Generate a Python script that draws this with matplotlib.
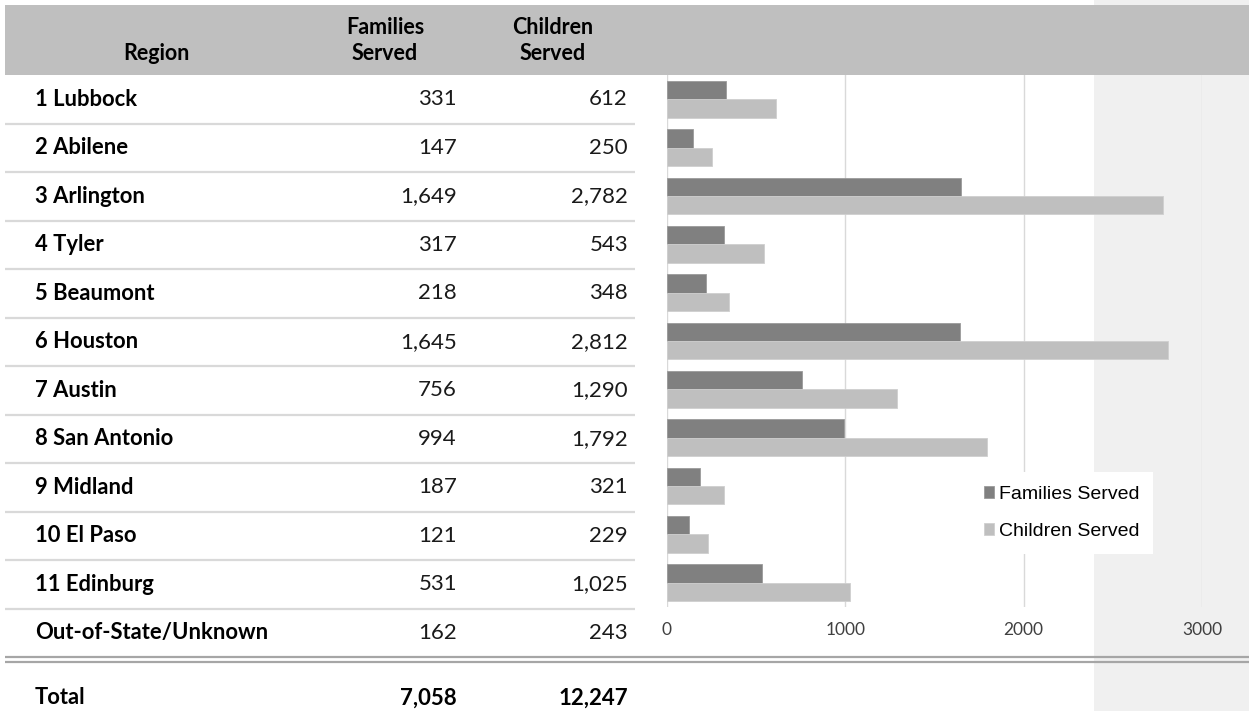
import matplotlib
matplotlib.use('Agg')
import matplotlib.pyplot as plt
from matplotlib.patches import Rectangle
import numpy as np

# table data
regions = ['1 Lubbock', '2 Abilene', '3 Arlington', '4 Tyler', '5 Beaumont', '6 Houston',
           '7 Austin', '8 San Antonio', '9 Midland', '10 El Paso', '11 Edinburg',
           'Out-of-State/Unknown']
families = [331, 147, 1649, 317, 218, 1645, 756, 994, 187, 121, 531, 162]
children = [612, 250, 2782, 543, 348, 2812, 1290, 1792, 321, 229, 1025, 243]
n_chart = 11  # out-of-state row is not in the bar chart
x_ticks = [0, 1000, 2000, 3000]

total_families = sum(families)
total_children = sum(children)

# layout in pixels
W, H = 1249, 711
head_top, head_bot = 5, 75
row_h = 48.5
x_lab, x_fam, x_chi = 35, 457, 628
c_left, c_right, c_top, c_bot = 667, 1202, 75, 607

tfont = ['Lato', 'DejaVu Sans']
lfont = ['Liberation Sans', 'DejaVu Sans']
fs_head, fs_lab, fs_num = 15.5, 15.8, 16

fig = plt.figure(figsize=(W / 100, H / 100), dpi=100)
bg = fig.add_axes([0, 0, 1, 1])
bg.set_xlim(0, W)
bg.set_ylim(H, 0)
bg.axis('off')

bg.add_patch(Rectangle((1094, 0), W - 1094, H, color='#F0F0F0', lw=0))
bg.add_patch(Rectangle((5, head_top), W - 5, head_bot - head_top, color='#BFBFBF', lw=0))

# header
bg.text(156, 53, 'Region', ha='center', va='center', fontsize=fs_head, fontweight='bold', family=tfont)
bg.text(385, 28, 'Families', ha='center', va='center', fontsize=fs_head, fontweight='bold', family=tfont)
bg.text(385, 53, 'Served', ha='center', va='center', fontsize=fs_head, fontweight='bold', family=tfont)
bg.text(553, 28, 'Children', ha='center', va='center', fontsize=fs_head, fontweight='bold', family=tfont)
bg.text(553, 53, 'Served', ha='center', va='center', fontsize=fs_head, fontweight='bold', family=tfont)

for i, (r, f, c) in enumerate(zip(regions, families, children)):
    y = head_bot + row_h * (i + 0.5)
    bg.text(x_lab, y, r, ha='left', va='center', fontsize=fs_lab, fontweight='bold', family=tfont)
    bg.text(x_fam, y, f'{f:,}', ha='right', va='center', fontsize=fs_num, family=tfont, color='#1a1a1a')
    bg.text(x_chi, y, f'{c:,}', ha='right', va='center', fontsize=fs_num, family=tfont, color='#1a1a1a')
    if i < len(regions) - 1:
        ys = head_bot + row_h * (i + 1)
        bg.plot([5, 635], [ys, ys], color='#D9D9D9', lw=1.6, solid_capstyle='butt')

for ys in (657, 662):
    bg.plot([5, W], [ys, ys], color='#A6A6A6', lw=1.6, solid_capstyle='butt')

y_tot = 698
bg.text(x_lab, y_tot, 'Total', ha='left', va='center', fontsize=fs_lab, fontweight='bold', family=tfont)
bg.text(x_fam, y_tot, f'{total_families:,}', ha='right', va='center', fontsize=fs_num, fontweight='bold', family=tfont)
bg.text(x_chi, y_tot, f'{total_children:,}', ha='right', va='center', fontsize=fs_num, fontweight='bold', family=tfont)

# bar chart
ax = fig.add_axes([c_left / W, (H - c_bot) / H, (c_right - c_left) / W, (c_bot - c_top) / H])
ax.patch.set_alpha(0)
pos = np.arange(n_chart)
bh = 0.38
b1 = ax.barh(pos - bh / 2, families[:n_chart], height=bh, color='#808080',
             edgecolor='#9a9a9a', lw=0.6, label='Families Served', zorder=3)
b2 = ax.barh(pos + bh / 2, children[:n_chart], height=bh, color='#BFBFBF',
             edgecolor='#cfcfcf', lw=0.6, label='Children Served', zorder=3)
ax.set_xlim(0, 3000)
ax.set_ylim(n_chart - 0.5, -0.5)
ax.set_xticks(x_ticks)
ax.set_xticklabels([str(t) for t in x_ticks], family=tfont, fontsize=12.5, color='#404040')
ax.set_yticks([])
ax.tick_params(axis='x', length=0, pad=11)
ax.grid(axis='x', color='#D9D9D9', lw=1, zorder=0)
for s in ax.spines.values():
    s.set_visible(False)

leg = ax.legend(loc='upper right', bbox_to_anchor=(0.927, 0.272), frameon=True,
                facecolor='white', edgecolor='none', fancybox=False, framealpha=1,
                prop={'family': lfont, 'size': 14}, handlelength=0.55, handleheight=0.55,
                handletextpad=0.25, labelspacing=1.05, borderpad=0.7)

fig.savefig('out.png', dpi=100)
